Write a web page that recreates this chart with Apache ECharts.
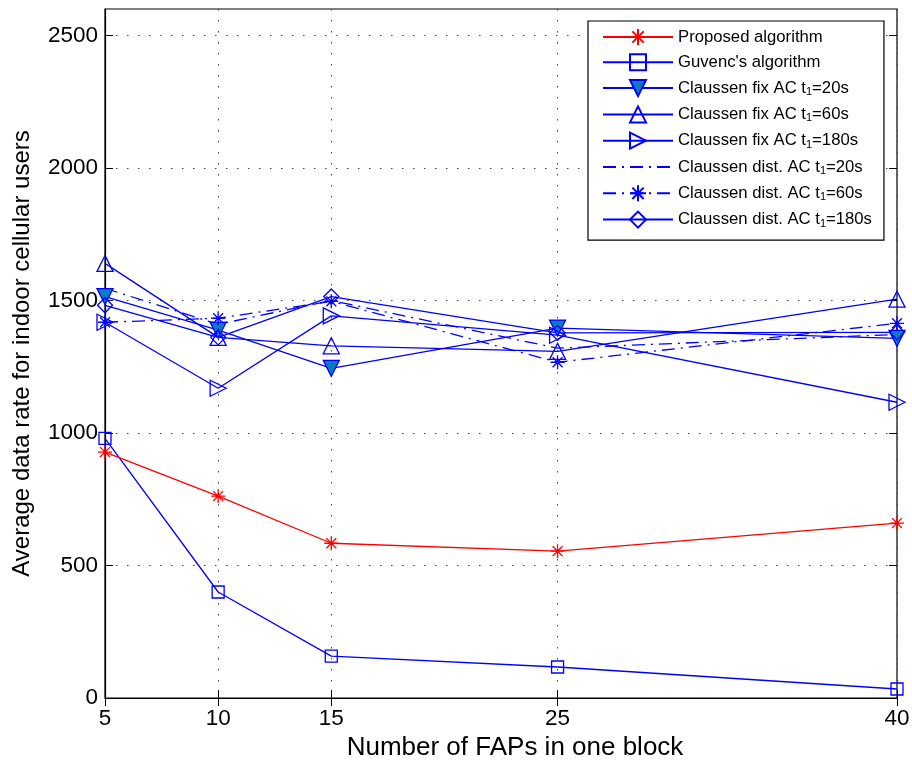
<!DOCTYPE html>
<html>
<head>
<meta charset="utf-8">
<script src="https://cdn.jsdelivr.net/npm/echarts@6/dist/echarts.min.js"></script>
<style>
html, body { margin: 0; padding: 0; background: #fff; }
#main { width: 912px; height: 761px; }
</style>
</head>
<body>
<div id="main"></div>
<script>
// x positions (number of FAPs) and y values
var faps = [5, 10, 15, 25, 40];
var yTicks = [0, 500, 1000, 1500, 2000, 2500];

var proposed = [928, 762, 584, 554, 660];
var guvenc = [980, 400, 158, 117, 34];
var fix20 = [1515, 1388, 1244, 1396, 1357];
var fix60 = [1640, 1361, 1329, 1308, 1505];
var fix180 = [1418, 1169, 1442, 1369, 1116];
var dist20 = [1546, 1410, 1500, 1320, 1372];
var dist60 = [1418, 1433, 1497, 1267, 1414];
var dist180 = [1482, 1361, 1515, 1378, 1380];

var names = [
	'Proposed algorithm',
	"Guvenc's algorithm",
	'Claussen fix AC t1=20s',
	'Claussen fix AC t1=60s',
	'Claussen fix AC t1=180s',
	'Claussen dist. AC t1=20s',
	'Claussen dist. AC t1=60s',
	'Claussen dist. AC t1=180s'
];

var BLUE = '#0000ff';
var RED = '#ff0000';
var FILL = '#0b7cc0';
var FONT = '"Liberation Sans", Arial, sans-serif';
var starPath = 'path://M5 0L5 10M0 5L10 5M1.46 1.46L8.54 8.54M8.54 1.46L1.46 8.54';
var dashDot = [13, 6, 2, 6];

function pairs(vals) {
	var res = [];
	for (var i = 0; i < faps.length; i++) {
		res.push([faps[i], vals[i]]);
	}
	return res;
}

function mkSeries(name, vals, color, symbol, opts) {
	opts = opts || {};
	return {
		name: name,
		type: 'line',
		data: pairs(vals),
		symbol: symbol,
		symbolSize: opts.size || 13,
		symbolRotate: opts.rotate || 0,
		showAllSymbol: true,
		animation: false,
		lineStyle: {color: color, width: 1.3, type: opts.dash || 'solid'},
		itemStyle: {
			color: opts.fill || 'rgba(0,0,0,0)',
			borderColor: color,
			borderWidth: 1.3
		},
		emphasis: {disabled: true},
		z: opts.z || 2
	};
}

// legend entries; the plain dash-dot one has no marker
var legendData = names.map(function (n, i) {
	if (i === 5) {
		return {name: n, itemStyle: {color: 'rgba(0,0,0,0)', borderColor: 'rgba(0,0,0,0)'}};
	}
	return {name: n};
});

var chart = echarts.init(document.getElementById('main'));

var option = {
	backgroundColor: '#fff',
	animation: false,
	grid: {
		left: 105, right: 15, top: 9, bottom: 63,
		outerBoundsMode: 'none',
		containLabel: false,
		show: true, borderColor: '#000', borderWidth: 1.2,
		backgroundColor: 'transparent'
	},
	legend: {
		orient: 'vertical',
		left: 588, top: 21,
		padding: [7, 12, 11, 14],
		itemWidth: 70,
		itemHeight: 20,
		itemGap: 7.3,
		backgroundColor: '#fff',
		borderColor: '#000',
		borderWidth: 1.2,
		data: legendData,
		formatter: function (n) {
			return n.replace('t1=', 't{s|1}=');
		},
		textStyle: {
			fontFamily: FONT, fontSize: 16.7, color: '#000', lineHeight: 17,
			rich: {
				s: {fontFamily: FONT, fontSize: 11, color: '#000', lineHeight: 11, padding: [8, 0, 0, 0]}
			}
		}
	},
	xAxis: [{
		type: 'value',
		min: 5, max: 40,
		name: 'Number of FAPs in one block',
		nameLocation: 'middle',
		nameGap: 34,
		nameTextStyle: {fontFamily: FONT, fontSize: 26, color: '#000', padding: [0, 0, 0, 28]},
		axisLine: {show: true, onZero: false, lineStyle: {color: '#000', width: 1.2}},
		axisTick: {show: true, inside: true, length: 8, customValues: faps, lineStyle: {color: '#000'}},
		axisLabel: {customValues: faps, fontFamily: FONT, fontSize: 22.5, color: '#000', margin: 9},
		splitLine: {show: true, lineStyle: {color: '#444', type: [1.5, 9.5], width: 1}}
	}, {
		type: 'value',
		position: 'top',
		min: 5, max: 40,
		axisLine: {show: false},
		axisTick: {show: true, inside: true, length: 8, customValues: faps, lineStyle: {color: '#000'}},
		axisLabel: {show: false},
		splitLine: {show: false}
	}],
	yAxis: [{
		type: 'value',
		min: 0, max: 2600, interval: 500,
		name: 'Average data rate for indoor cellular users',
		nameLocation: 'middle',
		nameGap: 71,
		nameTextStyle: {fontFamily: FONT, fontSize: 24, color: '#000'},
		axisLine: {show: true, lineStyle: {color: '#000', width: 1.2}},
		axisTick: {show: true, inside: true, length: 8, customValues: yTicks, lineStyle: {color: '#000'}},
		axisLabel: {
			customValues: yTicks, fontFamily: FONT, fontSize: 22.5, color: '#000', margin: 7,
			formatter: function (v) { return String(v); }
		},
		splitLine: {show: true, lineStyle: {color: '#444', type: [1.5, 9.5], width: 1}}
	}, {
		type: 'value',
		position: 'right',
		min: 0, max: 2600, interval: 500,
		axisLine: {show: false},
		axisTick: {show: true, inside: true, length: 8, customValues: yTicks, lineStyle: {color: '#000'}},
		axisLabel: {show: false},
		splitLine: {show: false}
	}],
	series: [
		mkSeries(names[0], proposed, RED, starPath, {size: 14, fill: RED, z: 3}),
		mkSeries(names[1], guvenc, BLUE, 'rect', {size: 12}),
		mkSeries(names[2], fix20, BLUE, 'triangle', {size: 16, rotate: 180, fill: FILL}),
		mkSeries(names[3], fix60, BLUE, 'triangle', {size: 16}),
		mkSeries(names[4], fix180, BLUE, 'triangle', {size: 16, rotate: -90}),
		mkSeries(names[5], dist20, BLUE, 'none', {dash: dashDot}),
		mkSeries(names[6], dist60, BLUE, starPath, {size: 14, dash: dashDot, fill: BLUE}),
		mkSeries(names[7], dist180, BLUE, 'diamond', {size: 15})
	]
};

chart.setOption(option);
</script>
</body>
</html>
